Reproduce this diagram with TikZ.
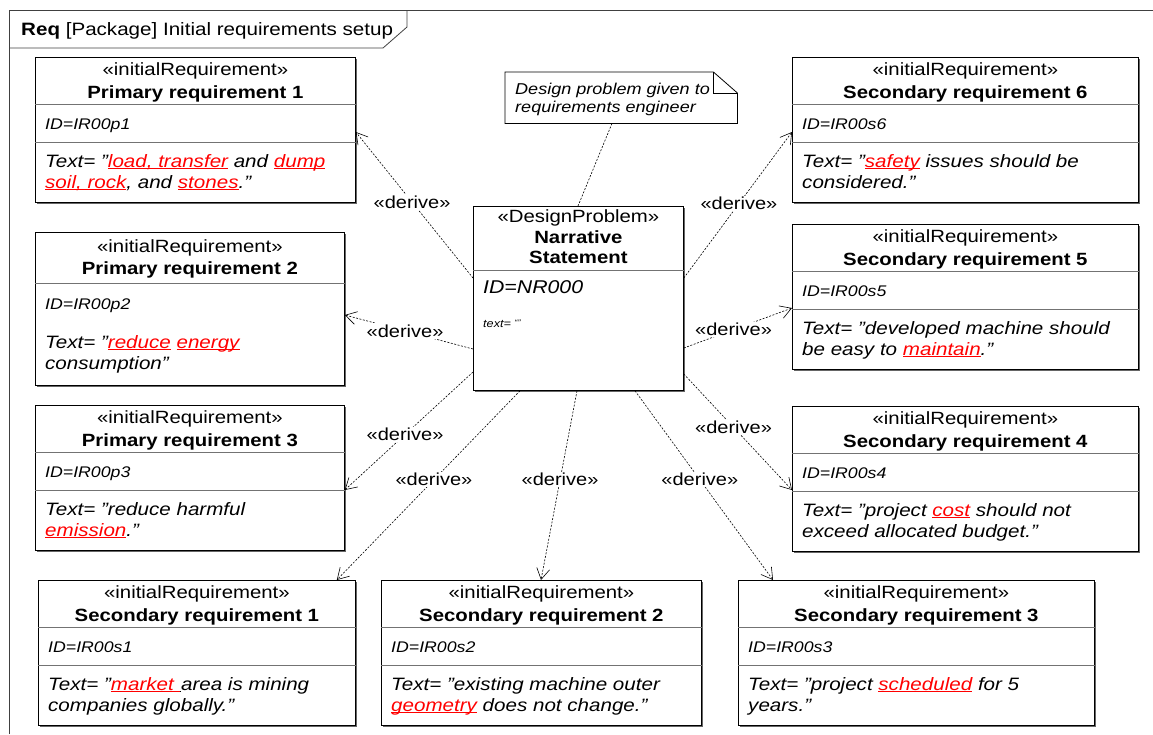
\documentclass[tikz,border=0pt]{standalone}
\usepackage{fontspec}
\setmainfont{Liberation Sans}[FakeStretch=1.15]
\usetikzlibrary{arrows.meta,shadows}
\newcommand{\rd}[1]{{\color{red}\setbox0\hbox{#1}\rlap{\rule[-2.3pt]{\wd0}{0.9pt}}\box0}}
\newcommand{\bul}[1]{\setbox0\hbox{#1}\rlap{\rule[-2.3pt]{\wd0}{0.9pt}}\box0}
\newcommand{\reqbox}[8]{%
  \node[box, minimum width=#4pt, minimum height=145pt] (#1) at (#2,#3) {};
  \draw[divider] ([yshift=-47pt]#1.north west) -- ([yshift=-47pt]#1.north east);
  \draw[divider] ([yshift=-85pt]#1.north west) -- ([yshift=-85pt]#1.north east);
  \node[stereo] (#1-s) at ([yshift=-18pt]#1.north) {«initialRequirement»};
  \node[bname] (#1-n) at ([yshift=-41pt]#1.north) {#5};
  \node[idtxt] (#1-i) at ([xshift=10pt,yshift=-72pt]#1.north west) {#6};
  \node[body] (#1-a) at ([xshift=10pt,yshift=-110pt]#1.north west) {#7};
  \node[body] (#1-b) at ([xshift=10pt,yshift=-131pt]#1.north west) {#8};
}
\tikzset{
  box/.style={draw, line width=0.8pt, anchor=north west, inner sep=0pt, fill=white,
    drop shadow={shadow xshift=1.3pt, shadow yshift=-1.3pt, fill=black!60, opacity=1}},
  divider/.style={draw=black!55, line width=0.8pt},
  stereo/.style={anchor=base, inner sep=0pt, font=\fontsize{17.7}{20}\selectfont},
  bname/.style={anchor=base, inner sep=0pt, font=\fontsize{17.7}{20}\selectfont\bfseries},
  idtxt/.style={anchor=base west, inner sep=0pt, font=\fontsize{15.4}{18}\selectfont\itshape},
  body/.style={anchor=base west, inner sep=0pt, font=\fontsize{17.9}{20}\selectfont\itshape},
  derive/.style={line width=0.6pt, dash pattern=on 2pt off 1.5pt,
    -{Straight Barb[length=11pt,width=13pt]}},
  lbl/.style={fill=white, inner sep=1.2pt, font=\fontsize{17.4}{20}\selectfont},
  notelink/.style={line width=0.6pt, dash pattern=on 2pt off 1.5pt},
}
\begin{document}
\begin{tikzpicture}[x=1pt,y=-1pt]
\useasboundingbox (0,0) rectangle (1153,734);
% frame
\draw[line width=0.8pt, black!75] (9,734) -- (9,10) -- (1153,10);
\draw[line width=0.8pt, black!75] (9,48) -- (383,48) -- (407,27) -- (407,10);
\node[anchor=base west, inner sep=0pt, font=\fontsize{17.9}{20}\selectfont] (frametitle) at (21,35)
  {\textbf{Req} [Package] Initial requirements setup};

% left column
\reqbox{p1}{35}{57}{320}{Primary requirement 1}{ID=IR00p1}
  {Text= ”\rd{load, transfer} and \rd{dump}}{\rd{soil, rock}, and \rd{stones}.”}
% P2 (single divider)
\node[box, minimum width=309pt, minimum height=153pt] (p2) at (35,232) {};
\draw[divider] ([yshift=-51pt]p2.north west) -- ([yshift=-51pt]p2.north east);
\node[stereo] (p2-s) at ([yshift=-20pt]p2.north) {«initialRequirement»};
\node[bname] (p2-n) at ([yshift=-42pt]p2.north) {Primary requirement 2};
\node[idtxt] (p2-i) at ([xshift=10pt,yshift=-77pt]p2.north west) {ID=IR00p2};
\node[body] (p2-a) at ([xshift=10pt,yshift=-116pt]p2.north west) {Text= ”\rd{reduce} \rd{energy}};
\node[body] (p2-b) at ([xshift=10pt,yshift=-137pt]p2.north west) {consumption”};
\reqbox{p3}{35}{405}{309}{Primary requirement 3}{ID=IR00p3}
  {Text= ”reduce harmful}{\rd{emission}.”}

% bottom row
\reqbox{s1}{38}{580}{317}{Secondary requirement 1}{ID=IR00s1}
  {Text= ”\rd{market\ }\bul{\kern1.5pt}area is mining}{companies globally.”}
\reqbox{s2}{381}{580}{320}{Secondary requirement 2}{ID=IR00s2}
  {Text= ”existing machine outer}{\rd{geometry} does not change.”}
\reqbox{s3}{738}{580}{356}{Secondary requirement 3}{ID=IR00s3}
  {Text= ”project \rd{scheduled} for 5}{years.”}

% right column
\reqbox{s6}{792}{57}{346}{Secondary requirement 6}{ID=IR00s6}
  {Text= ”\rd{safety} issues should be}{considered.”}
\reqbox{s5}{792}{224}{346}{Secondary requirement 5}{ID=IR00s5}
  {Text= ”developed machine should}{be easy to \rd{maintain}.”}
\reqbox{s4}{792}{406}{346}{Secondary requirement 4}{ID=IR00s4}
  {Text= ”project \rd{cost} should not}{exceed allocated budget.”}

% centre
\node[box, minimum width=210pt, minimum height=184pt] (ctr) at (473,206) {};
\draw[divider] ([yshift=-64pt]ctr.north west) -- ([yshift=-64pt]ctr.north east);
\node[stereo] (ctr-s) at ([yshift=-16pt]ctr.north) {«DesignProblem»};
\node[bname] (ctr-n1) at ([yshift=-37pt]ctr.north) {Narrative};
\node[bname] (ctr-n2) at ([yshift=-57pt]ctr.north) {Statement};
\node[anchor=base west, inner sep=0pt, font=\fontsize{18.5}{20}\selectfont\itshape] (ctr-i)
  at ([xshift=10pt,yshift=-87pt]ctr.north west) {ID=NR000};
\node[anchor=base west, inner sep=0pt, font=\fontsize{11}{13}\selectfont\itshape] (ctr-t)
  at ([xshift=10pt,yshift=-121pt]ctr.north west) {text= \raisebox{2pt}{\fontsize{8}{9}\selectfont “”}};

% note
\node[anchor=north west, inner sep=0pt, minimum width=232pt, minimum height=51pt] (note) at (505,72) {};
\draw[line width=0.8pt, fill=white] (note.north west) -- ([xshift=-24pt]note.north east)
  -- ([yshift=-21pt]note.north east) -- (note.south east) -- (note.south west) -- cycle;
\draw[line width=0.8pt] ([xshift=-24pt]note.north east) |- ([yshift=-21pt]note.north east);
\node[anchor=base west, inner sep=0pt, font=\fontsize{15.7}{18}\selectfont\itshape] (note-a)
  at ([xshift=10pt,yshift=-22pt]note.north west) {Design problem given to};
\node[anchor=base west, inner sep=0pt, font=\fontsize{15.7}{18}\selectfont\itshape] (note-b)
  at ([xshift=10pt,yshift=-40pt]note.north west) {requirements engineer};
\draw[notelink] ([xshift=107pt]note.south west) -- ([xshift=105pt]ctr.north west);

% derive connectors
\draw[derive] ([yshift=-72pt]ctr.north west) -- node[lbl, pos=0.52] (l1) {«derive»} ([yshift=-75pt]p1.north east);
\draw[derive] ([yshift=-143pt]ctr.north west) -- node[lbl, pos=0.53] (l2) {«derive»} ([yshift=-83pt]p2.north east);
\draw[derive] ([yshift=-166pt]ctr.north west) -- node[lbl, pos=0.53] (l3) {«derive»} ([yshift=-85pt]p3.north east);
\draw[derive] ([xshift=47pt]ctr.south west) -- node[lbl, pos=0.47] (l4) {«derive»} ([xshift=-19pt]s1.north east);
\draw[derive] ([xshift=104pt]ctr.south west) -- node[lbl, pos=0.47] (l5) {«derive»} ([xshift=160pt]s2.north west);
\draw[derive] ([xshift=162pt]ctr.south west) -- node[lbl, pos=0.47] (l6) {«derive»} ([xshift=35pt]s3.north west);
\draw[derive] ([yshift=-168pt]ctr.north east) -- node[lbl, pos=0.46] (l7) {«derive»} ([yshift=-84pt]s4.north west);
\draw[derive] ([yshift=-142pt]ctr.north east) -- node[lbl, pos=0.46] (l8) {«derive»} ([yshift=-84pt]s5.north west);
\draw[derive] ([yshift=-72pt]ctr.north east) -- node[lbl, pos=0.51] (l9) {«derive»} ([yshift=-75pt]s6.north west);
\end{tikzpicture}
\end{document}
